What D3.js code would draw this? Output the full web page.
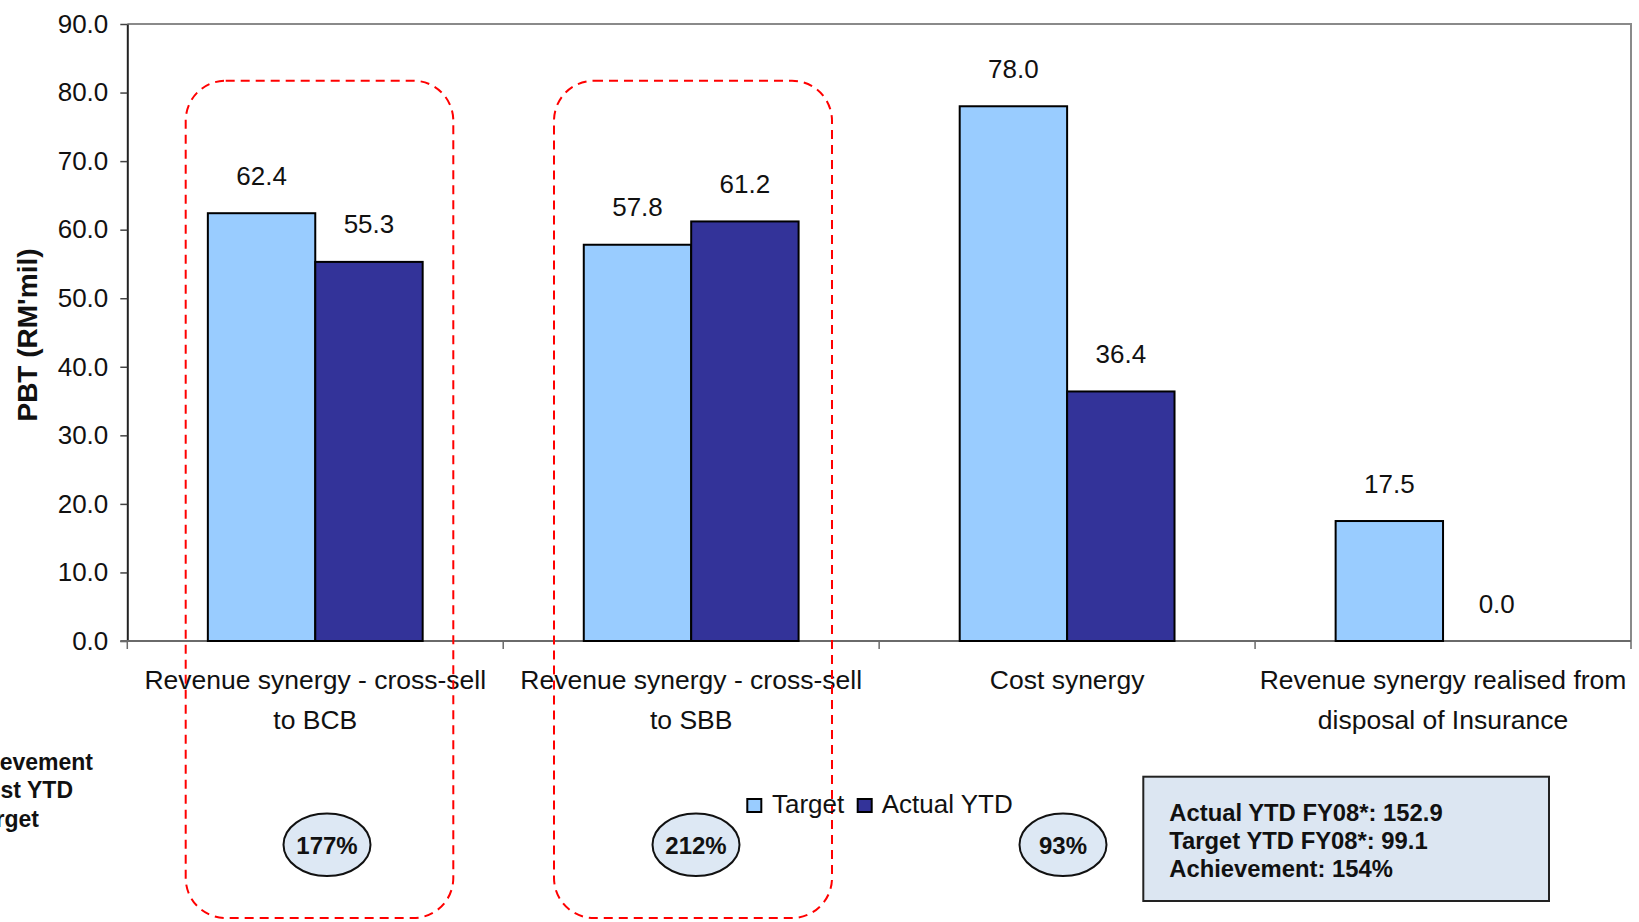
<!DOCTYPE html>
<html>
<head>
<meta charset="utf-8">
<script src="https://cdn.jsdelivr.net/npm/d3@7"></script>
<style>
  html, body { margin: 0; padding: 0; background: #fff; }
  svg { display: block; font-family: "Liberation Sans", Arial, sans-serif; }
</style>
</head>
<body>
<svg id="chart" width="1639" height="922"></svg>
<script>
// ---- data ----
const categories = [
  "Revenue synergy - cross-sell to BCB",
  "Revenue synergy - cross-sell to SBB",
  "Cost synergy",
  "Revenue synergy realised from disposal of Insurance"
];
const categoryLines = [
  ["Revenue synergy - cross-sell", "to BCB"],
  ["Revenue synergy - cross-sell", "to SBB"],
  ["Cost synergy"],
  ["Revenue synergy realised from", "disposal of Insurance"]
];
const seriesNames = ["Target", "Actual YTD"];
const targetValues = [62.4, 57.8, 78.0, 17.5];
const actualValues = [55.3, 61.2, 36.4, 0.0];
const yTickValues = [0, 10, 20, 30, 40, 50, 60, 70, 80, 90];
const achievementLabels = ["177%", "212%", "93%"];
const summaryLines = ["Actual YTD FY08*: 152.9", "Target YTD FY08*: 99.1", "Achievement: 154%"];
const sideNoteLines = ["Achievement", "against YTD", "target"];
const yTitle = "PBT (RM'mil)";

// ---- layout ----
const plot = { left: 127.3, right: 1631, top: 24, bottom: 641 };
const colors = { "Target": "#99ccff", "Actual YTD": "#333399" };

const svg = d3.select("#chart");

const x = d3.scaleBand().domain(categories).range([plot.left, plot.right]).padding(0);
const xs = d3.scaleBand().domain(seriesNames).range([0, x.bandwidth()])
  .paddingInner(0).paddingOuter(0.75);
const y = d3.scaleLinear().domain([0, 90]).range([plot.bottom, plot.top]);

const rows = categories.map((c, i) => ({
  cat: c,
  values: [
    { series: "Target", value: targetValues[i] },
    { series: "Actual YTD", value: actualValues[i] }
  ]
}));

// frame: top and right edges
svg.append("path")
  .attr("d", `M${plot.left},${plot.top}H${plot.right}V${plot.bottom}`)
  .attr("fill", "none").attr("stroke", "#8a8a8a").attr("stroke-width", 2);

// y axis
const yAxis = svg.append("g")
  .attr("transform", `translate(${plot.left},0)`)
  .call(d3.axisLeft(y).tickValues(yTickValues).tickFormat(d3.format(".1f"))
    .tickSize(7).tickPadding(12).tickSizeOuter(0));
yAxis.select(".domain").attr("stroke", "#222").attr("stroke-width", 2);
yAxis.selectAll(".tick line").attr("stroke", "#444").attr("stroke-width", 1.5);
yAxis.selectAll(".tick text")
  .attr("font-size", 26).attr("fill", "#111")
  .attr("font-family", "Liberation Sans, Arial, sans-serif");

// y axis title
svg.append("text")
  .attr("transform", `translate(37,335) rotate(-90)`)
  .attr("text-anchor", "middle")
  .attr("font-size", 28).attr("font-weight", "bold").attr("fill", "#111")
  .text(yTitle);

// x axis line and category boundary ticks
const boundaries = categories.map(c => x(c)).concat([plot.right]);
svg.append("line")
  .attr("x1", plot.left - 7).attr("x2", plot.right)
  .attr("y1", plot.bottom).attr("y2", plot.bottom)
  .attr("stroke", "#6a6a6a").attr("stroke-width", 2);
svg.selectAll("line.xtick").data(boundaries).join("line")
  .attr("class", "xtick")
  .attr("x1", d => d).attr("x2", d => d)
  .attr("y1", plot.bottom).attr("y2", plot.bottom + 8)
  .attr("stroke", "#6a6a6a").attr("stroke-width", 1.5);

// category labels
const catLabel = svg.selectAll("text.cat").data(categories).join("text")
  .attr("class", "cat")
  .attr("text-anchor", "middle")
  .attr("font-size", 26.5).attr("fill", "#111")
  .attr("x", d => x(d) + x.bandwidth() / 2)
  .attr("y", 689);
catLabel.each(function (d, i) {
  d3.select(this).selectAll("tspan").data(categoryLines[i]).join("tspan")
    .attr("x", x(d) + x.bandwidth() / 2)
    .attr("dy", (l, j) => j === 0 ? 0 : 40)
    .text(l => l);
});

// bars
const groups = svg.selectAll("g.cat").data(rows).join("g")
  .attr("class", "cat")
  .attr("transform", d => `translate(${x(d.cat)},0)`);

groups.selectAll("rect").data(d => d.values).join("rect")
  .attr("x", d => xs(d.series))
  .attr("width", xs.bandwidth())
  .attr("y", d => y(d.value))
  .attr("height", d => y(0) - y(d.value))
  .attr("fill", d => colors[d.series])
  .attr("stroke", d => d.value > 0 ? "#000" : "none")
  .attr("stroke-width", 2);

groups.selectAll("text").data(d => d.values).join("text")
  .attr("x", d => xs(d.series) + xs.bandwidth() / 2)
  .attr("y", d => y(d.value) - 28.5)
  .attr("text-anchor", "middle")
  .attr("font-size", 26).attr("fill", "#111")
  .text(d => d3.format(".1f")(d.value));

// dashed highlight boxes around the two revenue cross-sell categories
const highlights = [
  { x0: 185.7, x1: 453.3 },
  { x0: 554, x1: 832 }
];
svg.selectAll("rect.hl").data(highlights).join("rect")
  .attr("class", "hl")
  .attr("x", d => d.x0).attr("width", d => d.x1 - d.x0)
  .attr("y", 80.7).attr("height", 918 - 80.7)
  .attr("rx", 40).attr("ry", 40)
  .attr("fill", "none").attr("stroke", "#ff0000")
  .attr("stroke-width", 2).attr("stroke-dasharray", "9,6");

// legend
const legendItems = [
  { name: seriesNames[0], sx: 747.3, tx: 772 },
  { name: seriesNames[1], sx: 857.7, tx: 881.7 }
];
const leg = svg.selectAll("g.leg").data(legendItems).join("g").attr("class", "leg");
leg.append("rect")
  .attr("x", d => d.sx).attr("y", 799).attr("width", 14).attr("height", 13)
  .attr("fill", d => colors[d.name]).attr("stroke", "#000").attr("stroke-width", 2);
leg.append("text")
  .attr("x", d => d.tx).attr("y", 813)
  .attr("font-size", 26).attr("fill", "#111")
  .text(d => d.name);

// achievement ellipses
const ellipseX = [327, 696, 1063];
const ell = svg.selectAll("g.ach").data(achievementLabels).join("g").attr("class", "ach");
ell.append("ellipse")
  .attr("cx", (d, i) => ellipseX[i]).attr("cy", 844.7)
  .attr("rx", 43.5).attr("ry", 31.3)
  .attr("fill", "#dde8f4").attr("stroke", "#111").attr("stroke-width", 2);
ell.append("text")
  .attr("x", (d, i) => ellipseX[i]).attr("y", 853.5)
  .attr("text-anchor", "middle")
  .attr("font-size", 24).attr("font-weight", "bold").attr("fill", "#111")
  .text(d => d);

// side note, partly running off the left edge
const sideEnds = [93, 73, 39];
svg.selectAll("text.side").data(sideNoteLines).join("text")
  .attr("class", "side")
  .attr("x", (d, i) => sideEnds[i])
  .attr("y", (d, i) => 769.5 + i * 28.7)
  .attr("text-anchor", "end")
  .attr("font-size", 23).attr("font-weight", "bold").attr("fill", "#111")
  .text(d => d);

// summary box
svg.append("rect")
  .attr("x", 1143.3).attr("y", 776.7).attr("width", 1549 - 1143.3).attr("height", 901 - 776.7)
  .attr("fill", "#dce6f2").attr("stroke", "#222").attr("stroke-width", 2);
svg.selectAll("text.sum").data(summaryLines).join("text")
  .attr("class", "sum")
  .attr("x", 1169.3)
  .attr("y", (d, i) => 820.5 + i * 28.3)
  .attr("font-size", 23.8).attr("font-weight", "bold").attr("fill", "#111")
  .text(d => d);
</script>
</body>
</html>
